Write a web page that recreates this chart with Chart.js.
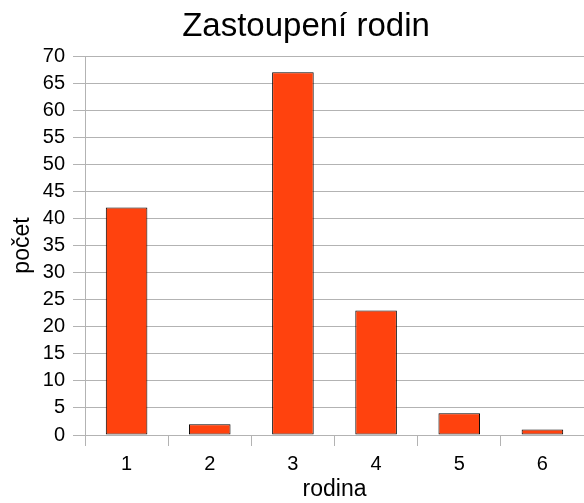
<!DOCTYPE html>
<html>
<head>
<meta charset="utf-8">
<script src="https://cdn.jsdelivr.net/npm/chart.js@4"></script>
<style>
  html, body { margin: 0; padding: 0; background: #fff; }
  #wrap { width: 584px; height: 503px; }
</style>
</head>
<body>
<div id="wrap"><canvas id="rodiny" width="584" height="503"></canvas></div>
<script>
// families and how many of each
const rodiny = ['1', '2', '3', '4', '5', '6'];
const pocty = [42, 2, 67, 23, 4, 1];

const gridColor = '#b3b3b3';
Chart.defaults.font.family = "'Liberation Sans', Arial, sans-serif";
Chart.defaults.color = '#000';

const ctx = document.getElementById('rodiny');

new Chart(ctx, {
  type: 'bar',
  data: {
    labels: rodiny,
    datasets: [{
      label: 'počet',
      data: pocty,
      backgroundColor: '#ff420e',
      borderColor: '#000',
      borderWidth: 1,
      borderSkipped: false,
      categoryPercentage: 1,
      barPercentage: 0.5
    }]
  },
  options: {
    responsive: false,
    animation: false,
    layout: { padding: { left: 28, right: 0, top: 0, bottom: 0 } },
    plugins: {
      legend: { display: false },
      tooltip: { enabled: false },
      title: {
        display: true,
        text: 'Zastoupení rodin',
        color: '#000',
        font: { size: 33, weight: 'normal' },
        padding: { top: 6.7, bottom: 9.7 }
      }
    },
    scales: {
      x: {
        grid: { offset: true, drawOnChartArea: false, tickLength: 11, color: gridColor },
        border: { color: gridColor },
        ticks: { font: { size: 20 }, padding: 6 },
        title: { display: true, text: 'rodina', font: { size: 23 }, padding: { top: -2.8, bottom: 0 } },
        afterFit: function (scale) { scale.height = 68; }
      },
      y: {
        min: 0,
        max: 70,
        ticks: { stepSize: 5, font: { size: 20 }, padding: 8 },
        grid: { color: gridColor, tickLength: 12 },
        border: { color: gridColor },
        title: { display: true, text: 'počet', font: { size: 23 }, padding: { top: -18.8, bottom: 0 } },
        afterFit: function (scale) { scale.width = 57; }
      }
    }
  }
});
</script>
</body>
</html>
